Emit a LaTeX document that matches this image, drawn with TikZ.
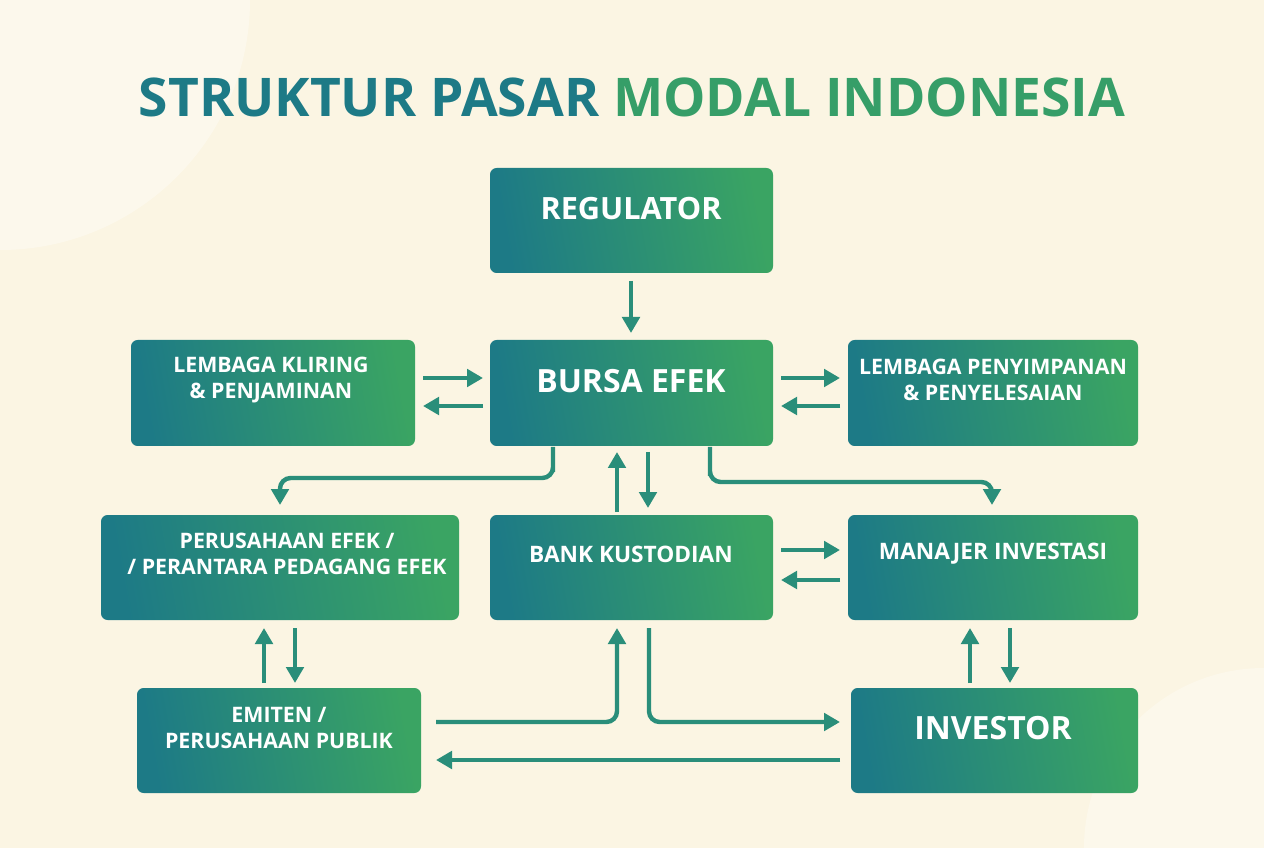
\documentclass[tikz,border=0pt]{standalone}
\usepackage{fontspec}
\setmainfont{Open Sans}
\usetikzlibrary{arrows.meta}
\definecolor{bg}{HTML}{FBF5E3}
\definecolor{teal}{HTML}{1D7A86}
\definecolor{grn}{HTML}{3AA463}
\definecolor{arr}{HTML}{2A8E7A}
\begin{document}
\begin{tikzpicture}[x=0.75pt,y=-0.75pt,
 box/.style={rounded corners=5pt,left color=teal,right color=grn,shading angle=100},
 lbl/.style={text=white,font=\bfseries,align=center},
 big/.style={lbl,font=\bfseries\fontsize{24}{28}\selectfont},
 sm/.style={lbl,font=\bfseries\fontsize{16}{19}\selectfont},
 ar/.style={draw=arr,line width=3.3pt,-{Triangle[length=12pt,width=13pt]},rounded corners=8pt}]
\useasboundingbox (0,0) rectangle (1264,848);
\begin{scope}
\clip (0,0) rectangle (1264,848);
\fill[bg] (0,0) rectangle (1264,848);
\fill[white,opacity=0.35] (0,0) circle (250);
\fill[white,opacity=0.3] (1264,848) circle (180);
\end{scope}
\node[font=\bfseries\fontsize{40}{44}\selectfont] (title) at (632,97) {\textcolor{teal}{STRUKTUR PASAR} \textcolor{grn!85!teal}{MODAL INDONESIA}};
% boxes
\path[box] (490,168) rectangle (773,273); \node[big,font=\bfseries\fontsize{23}{26}\selectfont] (reg) at (631,209) {REGULATOR};
\path[box] (490,340) rectangle (773,446); \node[big] (bur) at (631,381) {BURSA EFEK};
\path[box] (131,340) rectangle (415,446); \node[sm] (kli) at (271,380) {LEMBAGA KLIRING\\\& PENJAMINAN};
\path[box] (848,340) rectangle (1138,446); \node[sm] (pen) at (993,380) {LEMBAGA PENYIMPANAN\\\& PENYELESAIAN};
\path[box] (101,515) rectangle (459,620); \node[sm] (pe) at (287,554) {PERUSAHAAN EFEK /\\/ PERANTARA PEDAGANG EFEK};
\path[box] (490,515) rectangle (773,620); \node[sm,font=\bfseries\fontsize{17}{20}\selectfont] (bank) at (631,554) {BANK KUSTODIAN};
\path[box] (848,515) rectangle (1138,620); \node[sm,font=\bfseries\fontsize{17}{20}\selectfont] (mi) at (993,554) {MANAJER INVESTASI};
\path[box] (137,688) rectangle (421,793); \node[sm] (emi) at (279,728) {EMITEN /\\PERUSAHAAN PUBLIK};
\path[box] (851,688) rectangle (1138,793); \node[big] (inv) at (993,728) {INVESTOR};
% coordinates
\foreach \n/\x/\y in {a1/631/281,a2/631/333,b1/423/378,b2/483/378,b3/483/406,b4/423/406,
 c1/781/378,c2/840/378,c3/840/406,c4/781/406,d1/553/447,d2/280/505,e1/710/447,e2/992/505,
 f1/617/512,f2/617/452,g1/648/452,g2/648/508,h1/781/550,h2/840/550,h3/840/580,h4/781/580,
 i1/264/683,i2/264/628,j1/295/628,j2/295/683,k1/970/683,k2/970/628,l1/1010/628,l2/1010/683,
 m1/436/722,m2/617/628,n1/649/628,n2/840/722,o1/840/760,o2/436/760}
 \coordinate (\n) at (\x,\y);
\draw[ar] (a1)--(a2);
\draw[ar] (b1)--(b2); \draw[ar] (b3)--(b4);
\draw[ar] (c1)--(c2); \draw[ar] (c3)--(c4);
\draw[ar] (d1)|-(d1|-0,478)-|(d2);
\draw[ar] (e1)|-(e1|-0,482)-|(e2);
\draw[ar] (f1)--(f2); \draw[ar] (g1)--(g2);
\draw[ar] (h1)--(h2); \draw[ar] (h3)--(h4);
\draw[ar] (i1)--(i2); \draw[ar] (j1)--(j2);
\draw[ar] (k1)--(k2); \draw[ar] (l1)--(l2);
\draw[ar] (m1)-|(m2);
\draw[ar] (n1)|-(n2);
\draw[ar] (o1)--(o2);
\end{tikzpicture}
\end{document}
